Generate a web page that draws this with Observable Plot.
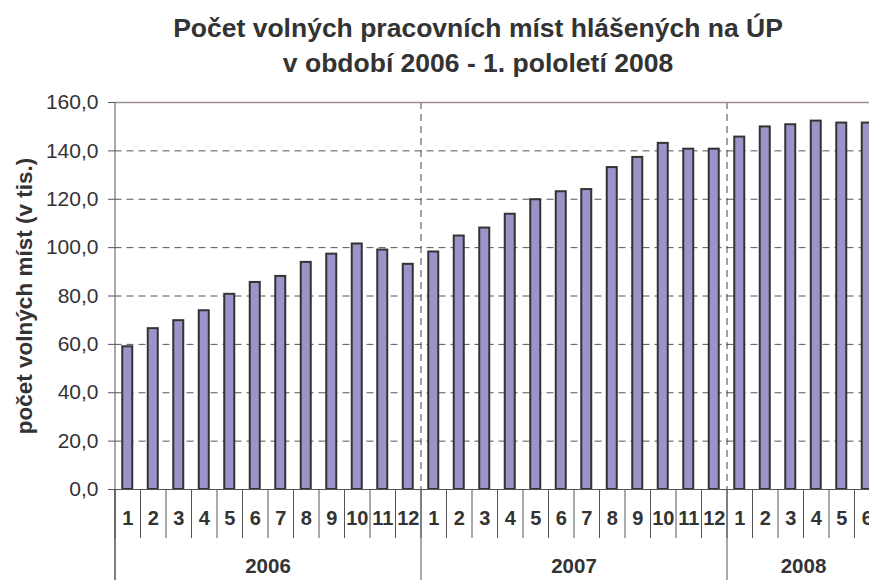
<!DOCTYPE html>
<html><head><meta charset="utf-8">
<script src="https://cdn.jsdelivr.net/npm/d3@7"></script>
<script src="https://cdn.jsdelivr.net/npm/@observablehq/plot@0.6"></script>
<style>
html,body{margin:0;padding:0;background:#fff;overflow:hidden;}
#wrap{position:relative;width:869px;height:580px;overflow:hidden;}
#title{position:absolute;left:0;top:0;width:956px;text-align:center;font:bold 26.5px "Liberation Sans",Arial,sans-serif;color:#333;line-height:35px;padding-top:11px;z-index:2;}
</style></head><body>
<div id="wrap"><div id="title">Počet volných pracovních míst hlášených na ÚP<br>v období 2006 - 1. pololetí 2008</div></div>
<script>
const years = ["2006", "2007", "2008"];
const monthLabels = ["1","2","3","4","5","6","7","8","9","10","11","12"];
const values2006 = [59.0, 66.5, 69.8, 73.9, 80.7, 85.6, 88.1, 93.9, 97.3, 101.5, 99.0, 93.1];
const values2007 = [98.2, 104.8, 108.1, 113.8, 119.8, 123.1, 124.0, 133.1, 137.3, 143.1, 140.7, 140.7];
const values2008 = [145.7, 149.9, 150.8, 152.3, 151.5, 151.5];
const yTicks = [0, 20, 40, 60, 80, 100, 120, 140, 160];
const yLabel = "počet volných míst (v tis.)";

const series = [values2006, values2007, values2008];
const data = [];
const yearInfo = [];
let idx = 0;
years.forEach((yr, k) => {
  const start = idx;
  series[k].forEach((v, m) => data.push({i: idx++, year: yr, month: monthLabels[m], value: v}));
  yearInfo.push({year: yr, start, end: idx, center: (start + idx) / 2});
});
const n = data.length;
const yearBounds = [0, ...yearInfo.map(d => d.end)];
const slotBounds = d3.range(0, n + 1);
const fmt = d => d.toFixed(1).replace(".", ",");

const chart = Plot.plot({
  width: 869,
  height: 580,
  marginTop: 102,
  marginBottom: 91,
  marginLeft: 114.5,
  marginRight: 0,
  style: {fontFamily: "'Liberation Sans', Arial, sans-serif", color: "#333", background: "#fff", overflow: "hidden"},
  x: {type: "linear", domain: [0, n], range: [114.5, 114.5 + 25.5 * n]},
  y: {domain: [0, 160], range: [489, 102]},
  marks: [
    Plot.gridY(yTicks.filter(t => t > 0 && t < 160), {stroke: "#555", strokeOpacity: 1, strokeDasharray: "7,5"}),
    Plot.ruleX(yearBounds.slice(1, -1), {stroke: "#444", strokeDasharray: "7,5"}),
    Plot.rect(data, {x1: d => d.i, x2: d => d.i + 1, y1: 0, y2: "value", fill: "#9b94c8", stroke: "#333", strokeWidth: 2, insetLeft: 7.75, insetRight: 7.75}),
    Plot.ruleY([160], {stroke: "#9c8e8e", strokeWidth: 1.5}),
    Plot.ruleY([0], {stroke: "#555"}),
    Plot.ruleX([0], {stroke: "#555", insetBottom: -91}),
    Plot.axisY(yTicks, {tickSize: 6.5, tickFormat: () => "", label: null, stroke: "#555"}),
    Plot.text(yTicks, {y: d => d, text: fmt, frameAnchor: "left", textAnchor: "end", dx: -16.5, fontSize: 21, fill: "#333"}),
    Plot.axisX(slotBounds, {tickSize: 49, tickFormat: () => "", label: null, stroke: "#555"}),
    Plot.axisX(yearBounds, {tickSize: 91, tickFormat: () => "", label: null, stroke: "#555"}),
    Plot.text(data, {x: d => d.i + 0.5, text: "month", frameAnchor: "bottom", dy: 35, fontSize: 20, fontWeight: "bold", fill: "#333"}),
    Plot.text(yearInfo, {x: "center", text: "year", frameAnchor: "bottom", dy: 83, fontSize: 20.5, fontWeight: "bold", fill: "#333"}),
    Plot.text([yLabel], {text: d => d, frameAnchor: "left", textAnchor: "middle", dx: -90.5, rotate: -90, fontSize: 22.5, fontWeight: "bold", fill: "#333"})
  ]
});
document.getElementById("wrap").appendChild(chart);
</script>
</body></html>
